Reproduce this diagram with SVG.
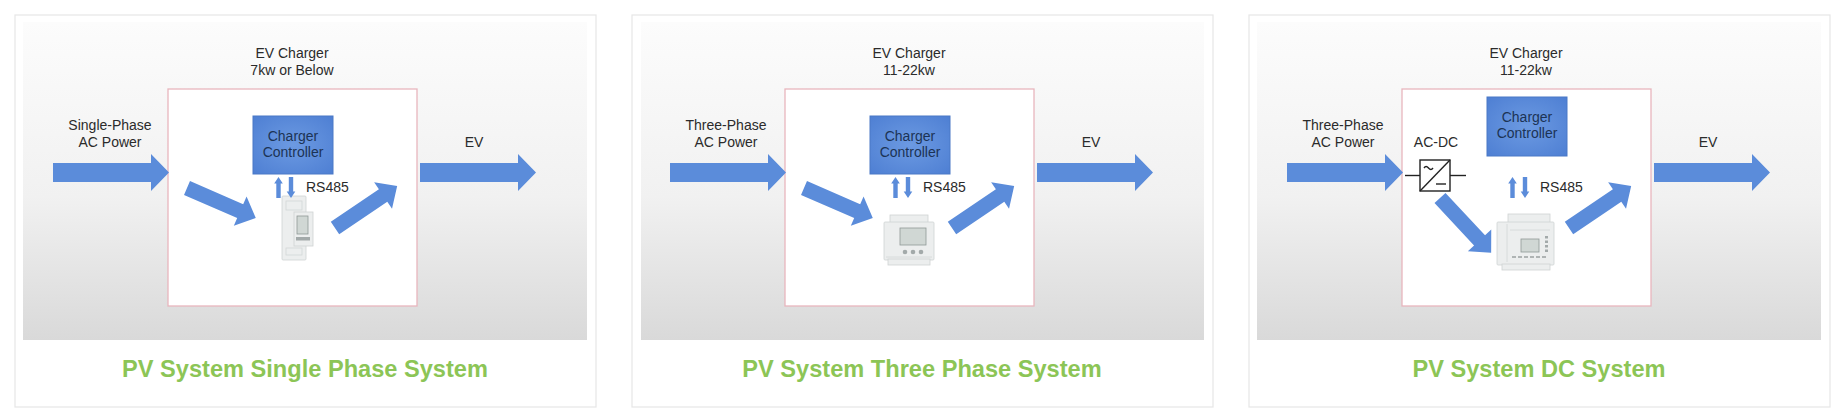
<svg xmlns="http://www.w3.org/2000/svg" xmlns:xlink="http://www.w3.org/1999/xlink" width="1841" height="413" viewBox="0 0 1841 413">
<defs>
  <linearGradient id="bg" x1="0" y1="0" x2="0" y2="1">
    <stop offset="0" stop-color="#fcfcfc"/>
    <stop offset="0.55" stop-color="#f1f1f1"/>
    <stop offset="1" stop-color="#d9d9d9"/>
  </linearGradient>
  <radialGradient id="ctl" cx="0.5" cy="0.5" r="0.7">
    <stop offset="0" stop-color="#6c9ae2"/>
    <stop offset="1" stop-color="#4e7fd3"/>
  </radialGradient>
  <polygon id="bigArrow" points="0,-9.5 98,-9.5 98,-18.5 116,0 98,18.5 98,9.5 0,9.5"/>
  <polygon id="diagArrow" points="0,-7.5 58,-7.5 58,-16 75,0 58,16 58,7.5 0,7.5"/>
  <polygon id="upArrow" points="-2.2,21 2.2,21 2.2,6.5 4.3,6.5 0,0 -4.3,6.5 -2.2,6.5"/>
  <polygon id="downArrow" points="-2.2,0 2.2,0 2.2,14.5 4.3,14.5 0,21 -4.3,14.5 -2.2,14.5"/>
</defs>
<style>
  .panel{fill:#ffffff;stroke:#e6e6e6;stroke-width:1.2}
  .gray{fill:url(#bg)}
  .charger{fill:#ffffff;stroke:#e8b6be;stroke-width:1.3}
  .ctl{fill:url(#ctl);stroke:#4a78c6;stroke-width:1}
  .ctlt{font-family:"Liberation Sans",Arial,sans-serif;font-size:14px;fill:#1c3355;text-anchor:middle}
  .lbl{font-family:"Liberation Sans",Arial,sans-serif;font-size:14px;fill:#2b2b2b;text-anchor:middle}
  .rs{font-family:"Liberation Sans",Arial,sans-serif;font-size:14px;fill:#2b2b2b}
  .title{font-family:"Liberation Sans",Arial,sans-serif;font-size:23.6px;font-weight:bold;fill:#8cc556;text-anchor:middle}
  .arr{fill:#5b8cda}
  .m-body{fill:#eceeee;stroke:#cfd3d3;stroke-width:0.8}
  .m-line{fill:none;stroke:#d3d6d6;stroke-width:0.8}
  .m-disp{fill:#d0d7d4;stroke:#8f9896;stroke-width:0.8}
  .m-btn{fill:#a3aaaa}
  .conv{fill:none;stroke:#222222;stroke-width:1.4}
</style>

<rect width="1841" height="413" fill="#ffffff"/>

<!-- Panel 1 -->
<g id="panel1">
  <rect class="panel" x="15" y="15" width="581" height="392"/>
  <rect class="gray" x="23" y="22" width="564" height="318"/>
  <text class="title" x="305" y="377">PV System Single Phase System</text>
</g>
<g id="charger1">
  <rect class="charger" x="168" y="89" width="249" height="217"/>
  <text class="lbl" x="292" y="58">EV Charger</text>
  <text class="lbl" x="292" y="75">7kw or Below</text>
</g>
<g id="controller1">
  <rect class="ctl" x="253" y="116" width="80" height="58"/>
  <text class="ctlt" x="293" y="141">Charger</text>
  <text class="ctlt" x="293" y="157">Controller</text>
</g>
<g id="source1">
  <text class="lbl" x="110" y="130">Single-Phase</text>
  <text class="lbl" x="110" y="147">AC Power</text>
</g>
<g id="ev1">
  <text class="lbl" x="474" y="147">EV</text>
</g>
<g id="meter1">
  <rect class="m-body" x="282" y="196" width="24" height="64" rx="1"/>
  <rect class="m-body" x="294" y="212" width="19" height="34"/>
  <rect class="m-line" x="286" y="201" width="16" height="9"/>
  <rect class="m-disp" x="297" y="216" width="11" height="18"/>
  <rect class="m-btn" x="296" y="237" width="14" height="3.5"/>
  <rect class="m-line" x="286" y="248" width="16" height="7"/>
</g>

<!-- Panel 2 -->
<g id="panel2">
  <rect class="panel" x="632" y="15" width="581" height="392"/>
  <rect class="gray" x="641" y="22" width="563" height="318"/>
  <text class="title" x="922" y="377">PV System Three Phase System</text>
</g>
<g id="charger2">
  <rect class="charger" x="785" y="89" width="249" height="217"/>
  <text class="lbl" x="909" y="58">EV Charger</text>
  <text class="lbl" x="909" y="75">11-22kw</text>
</g>
<g id="controller2">
  <rect class="ctl" x="870" y="116" width="80" height="58"/>
  <text class="ctlt" x="910" y="141">Charger</text>
  <text class="ctlt" x="910" y="157">Controller</text>
</g>
<g id="source2">
  <text class="lbl" x="726" y="130">Three-Phase</text>
  <text class="lbl" x="726" y="147">AC Power</text>
</g>
<g id="ev2">
  <text class="lbl" x="1091" y="147">EV</text>
</g>
<g id="meter2">
  <rect class="m-body" x="890" y="215" width="38" height="8"/>
  <rect class="m-body" x="884" y="222" width="50" height="38" rx="1"/>
  <rect class="m-body" x="888" y="259" width="42" height="6"/>
  <rect class="m-disp" x="900" y="228" width="26" height="17"/>
  <circle class="m-btn" cx="905" cy="252" r="2.3"/>
  <circle class="m-btn" cx="913" cy="252" r="2.3"/>
  <circle class="m-btn" cx="921" cy="252" r="2.3"/>
  <line class="m-line" x1="886" y1="257" x2="932" y2="257"/>
</g>

<!-- Panel 3 -->
<g id="panel3">
  <rect class="panel" x="1249" y="15" width="581" height="392"/>
  <rect class="gray" x="1257" y="22" width="564" height="318"/>
  <text class="title" x="1539" y="377">PV System DC System</text>
</g>
<g id="charger3">
  <rect class="charger" x="1402" y="89" width="249" height="217"/>
  <text class="lbl" x="1526" y="58">EV Charger</text>
  <text class="lbl" x="1526" y="75">11-22kw</text>
</g>
<g id="controller3">
  <rect class="ctl" x="1487" y="97" width="80" height="59"/>
  <text class="ctlt" x="1527" y="122">Charger</text>
  <text class="ctlt" x="1527" y="138">Controller</text>
</g>
<g id="source3">
  <text class="lbl" x="1343" y="130">Three-Phase</text>
  <text class="lbl" x="1343" y="147">AC Power</text>
</g>
<g id="ev3">
  <text class="lbl" x="1708" y="147">EV</text>
</g>
<g id="acdc3">
  <text class="lbl" x="1436" y="147">AC-DC</text>
  <line class="conv" x1="1405" y1="175.5" x2="1420" y2="175.5"/>
  <line class="conv" x1="1450" y1="175.5" x2="1466" y2="175.5"/>
  <rect class="conv" x="1420" y="160" width="30" height="31"/>
  <line class="conv" x1="1420" y1="191" x2="1450" y2="160"/>
  <path class="conv" d="M1424,168 q2,-3 4.5,0 t4.5,0" stroke-width="1.1"/>
  <line class="conv" x1="1436" y1="184" x2="1446" y2="184" stroke-width="1.2"/>
</g>
<g id="meter3">
  <rect class="m-body" x="1508" y="214" width="42" height="9"/>
  <rect class="m-body" x="1497" y="222" width="57" height="43" rx="1"/>
  <rect class="m-body" x="1502" y="264" width="48" height="6"/>
  <line class="m-line" x1="1507" y1="224" x2="1507" y2="262"/>
  <line class="m-line" x1="1510" y1="230" x2="1550" y2="230"/>
  <rect class="m-disp" x="1521" y="239" width="18" height="13"/>
  <rect class="m-btn" x="1545" y="236" width="3" height="2.5"/>
  <rect class="m-btn" x="1545" y="240.5" width="3" height="2.5"/>
  <rect class="m-btn" x="1545" y="245" width="3" height="2.5"/>
  <rect class="m-btn" x="1545" y="249.5" width="3" height="2.5"/>
  <line x1="1512" y1="257" x2="1548" y2="257" stroke="#9aa1a1" stroke-width="1.5" stroke-dasharray="4,2"/>
</g>

<!-- Connectors -->
<g id="connectors" class="arr">
  <!-- panel 1 -->
  <use xlink:href="#bigArrow" href="#bigArrow" transform="translate(53,172.5)"/>
  <use xlink:href="#bigArrow" href="#bigArrow" transform="translate(420,172.5)"/>
  <use xlink:href="#diagArrow" href="#diagArrow" transform="translate(187,188) rotate(23.5)"/>
  <use xlink:href="#diagArrow" href="#diagArrow" transform="translate(335,228) rotate(-34)"/>
  <use xlink:href="#upArrow" href="#upArrow" transform="translate(278.5,177)"/>
  <use xlink:href="#downArrow" href="#downArrow" transform="translate(291,177)"/>
  <!-- panel 2 -->
  <use xlink:href="#bigArrow" href="#bigArrow" transform="translate(670,172.5)"/>
  <use xlink:href="#bigArrow" href="#bigArrow" transform="translate(1037,172.5)"/>
  <use xlink:href="#diagArrow" href="#diagArrow" transform="translate(804,188) rotate(23.5)"/>
  <use xlink:href="#diagArrow" href="#diagArrow" transform="translate(952,228) rotate(-34)"/>
  <use xlink:href="#upArrow" href="#upArrow" transform="translate(895.5,177)"/>
  <use xlink:href="#downArrow" href="#downArrow" transform="translate(908,177)"/>
  <!-- panel 3 -->
  <use xlink:href="#bigArrow" href="#bigArrow" transform="translate(1287,172.5)"/>
  <use xlink:href="#bigArrow" href="#bigArrow" transform="translate(1654,172.5)"/>
  <use xlink:href="#diagArrow" href="#diagArrow" transform="translate(1440,198) rotate(47)"/>
  <use xlink:href="#diagArrow" href="#diagArrow" transform="translate(1569,228) rotate(-34)"/>
  <use xlink:href="#upArrow" href="#upArrow" transform="translate(1512.5,177)"/>
  <use xlink:href="#downArrow" href="#downArrow" transform="translate(1525,177)"/>
</g>
<g id="rs485-labels">
  <text class="rs" x="306" y="192">RS485</text>
  <text class="rs" x="923" y="192">RS485</text>
  <text class="rs" x="1540" y="192">RS485</text>
</g>
</svg>
